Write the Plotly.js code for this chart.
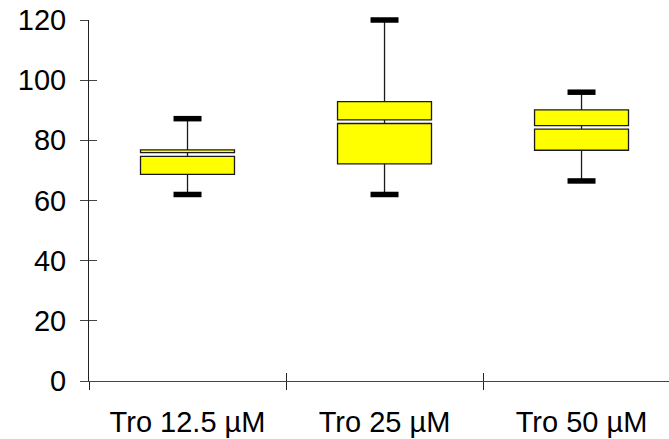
<!DOCTYPE html>
<html>
<head>
<meta charset="utf-8">
<script src="https://cdn.plot.ly/plotly-3.0.1.min.js"></script>
<style>html,body{margin:0;padding:0;background:#fff;}#chart{width:669px;height:439px;}</style>
</head>
<body>
<div id="chart"></div>
<script>
// ---- data ----
var categories = ["Tro 12.5 \u00b5M", "Tro 25 \u00b5M", "Tro 50 \u00b5M"];
var minVals    = [62.0, 62.0, 66.5];
var q1Vals     = [68.7, 72.2, 76.7];
var medianVals = [75.3, 86.2, 84.3];
var q3Vals     = [76.8, 92.9, 90.1];
var maxVals    = [87.2, 120.0, 96.0];
var yTickVals  = [0, 20, 40, 60, 80, 100, 120];

// ---- style ----
var gap = 0.6;            // half-gap drawn at the median (data units)
var boxWidth = 0.477;
var font = "Liberation Sans, Arial, sans-serif";
var fill = "#ffff00";
var ink = "#1a1a1a";

// lower part of each box: q1 -> median-gap
var lowerBox = {
  type: "bar", x: categories,
  base: q1Vals,
  y: q1Vals.map(function (q, i) { return medianVals[i] - gap - q; }),
  width: boxWidth,
  marker: { color: fill, line: { color: ink, width: 1.3 } },
  hoverinfo: "skip", showlegend: false
};
// upper part: median+gap -> q3
var upperBox = {
  type: "bar", x: categories,
  base: medianVals.map(function (m) { return m + gap; }),
  y: q3Vals.map(function (q, i) { return q - medianVals[i] - gap; }),
  width: boxWidth,
  marker: { color: fill, line: { color: ink, width: 1.3 } },
  hoverinfo: "skip", showlegend: false
};

// whisker segments
var wx = [], wy = [];
categories.forEach(function (c, i) {
  wx.push(c, c, null, c, c, null, c, c, null);
  wy.push(q3Vals[i], maxVals[i], null,
          q1Vals[i], minVals[i], null,
          medianVals[i] - gap, medianVals[i] + gap, null);
});
var whiskers = {
  type: "scatter", mode: "lines", x: wx, y: wy,
  line: { color: ink, width: 1.3 },
  cliponaxis: false,
  hoverinfo: "skip", showlegend: false, connectgaps: false
};
// whisker caps
var caps = {
  type: "scatter", mode: "markers",
  x: categories.concat(categories),
  y: maxVals.concat(minVals),
  cliponaxis: false,
  marker: { symbol: "line-ew", size: 20, color: "#000", line: { color: "#000", width: 5.5 } },
  hoverinfo: "skip", showlegend: false
};
// invisible trace to carry the overlay axes (inner half of the crossing ticks)
var overlayCarrier = {
  type: "scatter", mode: "markers", x: categories, y: [0, 0, 0],
  xaxis: "x2", yaxis: "y2",
  marker: { opacity: 0 }, hoverinfo: "skip", showlegend: false
};

var xRange = [-0.5, 2.444];
var yRange = [0, 120];

var layout = {
  width: 669, height: 439,
  margin: { l: 89, r: 0, t: 20, b: 58, pad: 0 },
  paper_bgcolor: "#fff", plot_bgcolor: "#fff",
  barmode: "overlay",
  showlegend: false,
  font: { family: font, color: "#000", size: 29 },
  xaxis: {
    type: "category", categoryarray: categories, categoryorder: "array",
    range: xRange, tickson: "boundaries",
    showline: true, linecolor: "#444", linewidth: 1,
    ticks: "outside", ticklen: 8, tickwidth: 1, tickcolor: "#222",
    showgrid: false, zeroline: false,
    tickfont: { family: font, size: 29, color: "#000" },
    ticklabelstandoff: 15
  },
  xaxis2: {
    type: "category", categoryarray: categories, categoryorder: "array",
    overlaying: "x", anchor: "y2", side: "bottom",
    range: xRange, tickson: "boundaries",
    showline: false, ticks: "inside", ticklen: 8, tickwidth: 1, tickcolor: "#222",
    showticklabels: false, showgrid: false, zeroline: false
  },
  yaxis: {
    range: yRange, tickmode: "array", tickvals: yTickVals,
    showline: true, linecolor: "#222", linewidth: 1,
    ticks: "outside", ticklen: 8, tickwidth: 1, tickcolor: "#444",
    showgrid: false, zeroline: false,
    tickfont: { family: font, size: 29, color: "#000" },
    ticklabelstandoff: 8
  },
  yaxis2: {
    range: yRange, tickmode: "array", tickvals: yTickVals,
    overlaying: "y", anchor: "x2", side: "left",
    showline: false, ticks: "inside", ticklen: 8, tickwidth: 1, tickcolor: "#444",
    showticklabels: false, showgrid: false, zeroline: false
  }
};

Plotly.newPlot("chart", [lowerBox, upperBox, whiskers, caps, overlayCarrier], layout,
  { staticPlot: true, displayModeBar: false });
</script>
</body>
</html>
